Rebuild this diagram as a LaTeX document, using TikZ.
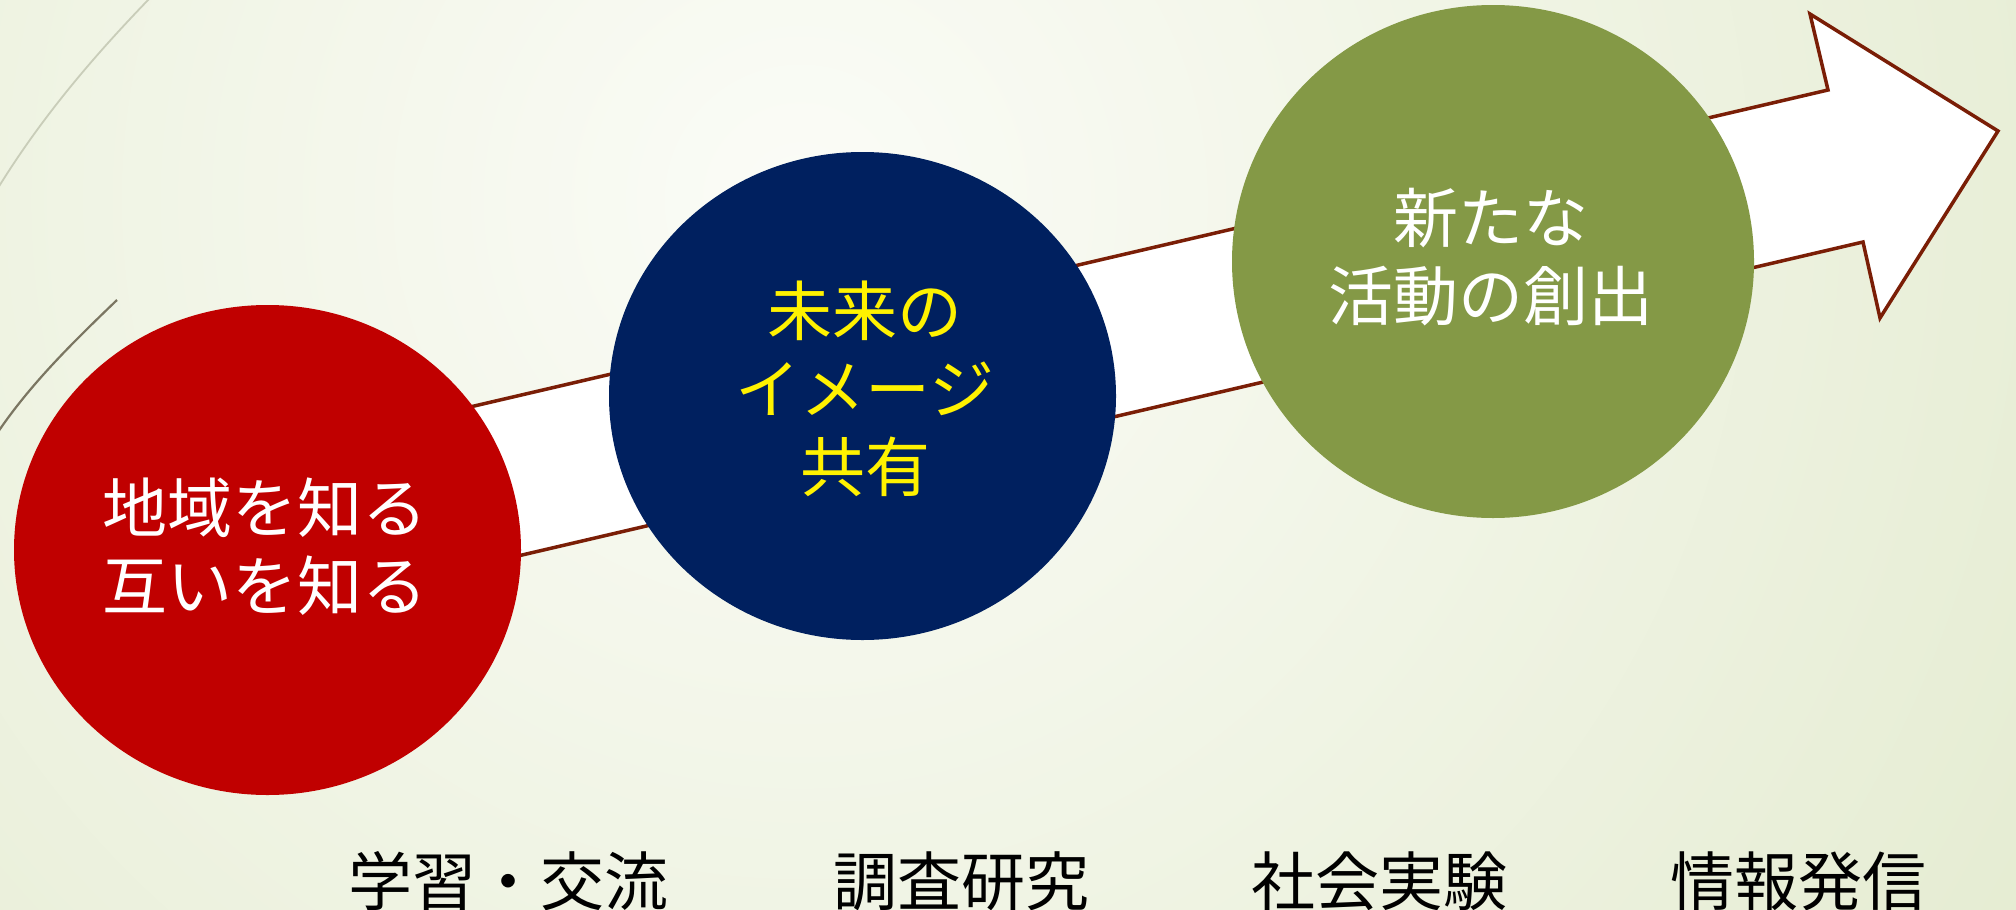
\documentclass[tikz,border=0pt]{standalone}
\usepackage{fontspec}
\setmainfont{Noto Sans CJK JP}
\newfontfamily\cjk{Noto Sans CJK JP}
\usetikzlibrary{shapes.geometric}
\definecolor{bgin}{HTML}{FBFCF7}
\definecolor{bgout}{HTML}{DEE7C6}
\definecolor{arrowline}{HTML}{7A1E06}
\definecolor{cred}{HTML}{C00000}
\definecolor{cnavy}{HTML}{00205F}
\definecolor{cgreen}{HTML}{849946}
\definecolor{decoA}{HTML}{C9CDB9}
\definecolor{decoB}{HTML}{7B7662}
\tikzset{
  disc/.style={ellipse, inner sep=0pt, outer sep=0pt},
  disctext/.style={align=center, inner sep=0pt, font=\cjk\fontsize{65}{78}\selectfont},
  steplabel/.style={inner sep=0pt, font=\cjk\fontsize{64}{70}\selectfont, text=black},
  bigarrow/.style={fill=white, draw=arrowline, line width=3.5pt, line join=miter}
}
\begin{document}
\begin{tikzpicture}[x=1pt,y=-1pt]
\useasboundingbox (0,0) rectangle (2016,910);
\begin{scope}
  \clip (0,0) rectangle (2016,910);
  \fill[bgout] (0,0) rectangle (2016,910);
  \shade[inner color=bgin, outer color=bgout] (800,200) circle (1900);
  \draw[decoA, line width=1.8pt] (150,-2) .. controls (90,60) and (40,120) .. (-2,188);
  \draw[decoB, line width=2.2pt] (117,300) .. controls (70,345) and (30,385) .. (-2,432);
\end{scope}
% big arrow
\coordinate (s1) at (350,435);
\coordinate (s2) at (1828,90);
\coordinate (h1) at (1810,14);
\coordinate (tip) at (1998,131);
\coordinate (h2) at (1880,318);
\coordinate (s3) at (1863,242);
\coordinate (s4) at (385,587);
\draw[bigarrow] (s1) -- (s2) -- (h1) -- (tip) -- (h2) -- (s3) -- (s4) -- cycle;
% circles
\node[disc, fill=cred, minimum width=507pt, minimum height=490pt] (know) at (267.5,550) {};
\node[disc, fill=cnavy, minimum width=507pt, minimum height=488pt] (image) at (862.5,396) {};
\node[disc, fill=cgreen, minimum width=522pt, minimum height=513pt] (create) at (1493,261.5) {};
\node[disctext, text=white] (tknow) at (265,547) {地域を知る\\互いを知る};
\node[disctext, text=yellow] (timage) at (865,389) {未来の\\イメージ\\共有};
\node[disctext, text=white] (tcreate) at (1491,257) {新たな\\活動の創出};
% bottom labels
\node[steplabel] (l1) at (508,881) {学習・交流};
\node[steplabel] (l2) at (961,881) {調査研究};
\node[steplabel] (l3) at (1379,881) {社会実験};
\node[steplabel] (l4) at (1798,881) {情報発信};
\end{tikzpicture}
\end{document}
